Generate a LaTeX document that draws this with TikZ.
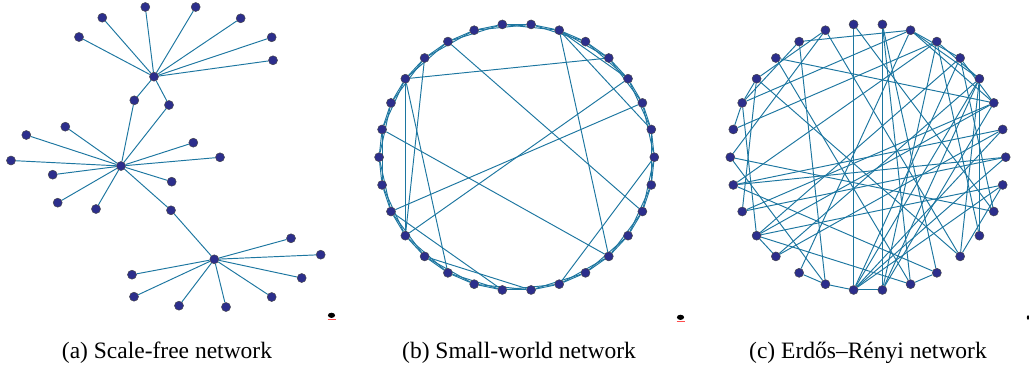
\documentclass[tikz,border=0pt]{standalone}
\usepackage{fontspec}
\setmainfont{Liberation Serif}
\definecolor{edgec}{RGB}{28,118,160}
\definecolor{dotc}{RGB}{44,46,140}
\definecolor{dotline}{RGB}{70,70,80}
\pgfdeclarelayer{bg}
\pgfdeclarelayer{edges}
\pgfsetlayers{bg,edges,main}
\begin{document}
\begin{tikzpicture}[x=1pt,y=-1pt,
  dot/.style={circle,fill=dotc,draw=dotline,line width=0.5pt,inner sep=0pt,minimum size=9pt},
  edge/.style={draw=edgec,line width=0.95pt},
  blob/.style={fill=black},
  captext/.style={font=\fontsize{23.5}{28}\selectfont,anchor=base}]
\begin{pgfonlayer}{bg}
\fill[white] (0,0) rectangle (1029,370);
\end{pgfonlayer}
\useasboundingbox (0,0) rectangle (1029,370);
% ---------- (a) scale-free ----------
\node[dot] (hA) at (154,76.7) {};
\node[dot] (a1) at (79,37) {};
\node[dot] (a2) at (102.3,17.7) {};
\node[dot] (a3) at (145.3,7) {};
\node[dot] (a4) at (195.7,7) {};
\node[dot] (a5) at (240.7,18.3) {};
\node[dot] (a6) at (271.7,37.3) {};
\node[dot] (a7) at (273,60.3) {};
\node[dot] (a8) at (134.3,100.3) {};
\node[dot] (a9) at (169,105) {};
\node[dot] (hB) at (121,166) {};
\node[dot] (b1) at (65.3,126.7) {};
\node[dot] (b2) at (26.3,135) {};
\node[dot] (b3) at (193.3,142.7) {};
\node[dot] (b4) at (220,157.3) {};
\node[dot] (b5) at (11,160.5) {};
\node[dot] (b6) at (52.7,174.7) {};
\node[dot] (b7) at (171.7,181.7) {};
\node[dot] (b8) at (57.7,202.7) {};
\node[dot] (b9) at (96,209) {};
\node[dot] (b10) at (171,210.3) {};
\node[dot] (hC) at (214.3,259.3) {};
\node[dot] (c1) at (291,238.3) {};
\node[dot] (c2) at (320.7,254.7) {};
\node[dot] (c3) at (301.7,278) {};
\node[dot] (c4) at (271.7,297) {};
\node[dot] (c5) at (226,307) {};
\node[dot] (c6) at (179,305.7) {};
\node[dot] (c7) at (134,296.7) {};
\node[dot] (c8) at (132,274.7) {};
\begin{pgfonlayer}{edges}
\foreach \t in {a1,a2,a3,a4,a5,a6,a7,a8,a9} \draw[edge] (hA) -- (\t);
\foreach \t in {a8,a9,b1,b2,b3,b4,b5,b6,b7,b8,b9,b10} \draw[edge] (hB) -- (\t);
\foreach \t in {b10,c1,c2,c3,c4,c5,c6,c7,c8} \draw[edge] (hC) -- (\t);
\end{pgfonlayer}
% ---------- (b) small-world ----------
\foreach \i in {0,...,29}
  \node[dot] (sw\i) at ({516.7+137.6*cos(12*\i)},{157.2-133.5*sin(12*\i)}) {};
\begin{pgfonlayer}{edges}
\foreach \i in {0,...,29}{
  \pgfmathtruncatemacro\j{mod(\i+1,30)}
  \pgfmathtruncatemacro\k{mod(\i+2,30)}
  \draw[edge] (sw\i) -- (sw\j);
  \draw[edge] (sw\i) -- (sw\k);
}
\foreach \p/\q in {12/4,10/28,6/26,6/3,6/1,3/18,2/17,14/26,12/18,11/18,12/20,17/22,19/23,0/24}
  \draw[edge] (sw\p) -- (sw\q);
\end{pgfonlayer}
% ---------- (c) Erdos-Renyi ----------
\foreach \i in {0,...,29}
  \node[dot] (er\i) at ({868+137.7*cos(12*\i)},{157.2-133.5*sin(12*\i)}) {};
\begin{pgfonlayer}{edges}
\foreach \p/\q in {8/22,7/23,10/6,11/2,10/21,13/6,14/5,13/12,13/18,16/0,16/1,18/29,18/19,20/21,22/23,24/25,22/3,22/4,23/3,9/26,12/26,11/24,9/12,6/2,3/26,29/26,22/1,22/29,18/24,17/2,19/1,20/6,21/15,15/9,16/5,25/16,27/5,28/8,4/2,5/3,6/3,4/18,3/19,0/17,5/23,7/24,23/2,3/27,14/13,21/22,18/2,28/4,25/7,6/4,10/13,0/22,15/28,17/12}
  \draw[edge] (er\p) -- (er\q);
\end{pgfonlayer}
% ---------- small marks ----------
\fill[blob] (331.5,315.3) ellipse (3.6 and 2.6);
\draw[red!70,line width=0.5pt] (327.5,319.2) -- (335.5,319.2);
\fill[blob] (680.5,317.3) ellipse (3.6 and 2.6);
\draw[red!70,line width=0.5pt] (676.5,321.2) -- (684.5,321.2);
\fill[blob] (1028,317.5) ellipse (1.2 and 2.2);
% ---------- captions ----------
\node[captext] (capa) at (167,358) {(a) Scale-free network};
\node[captext] (capb) at (519,358) {(b) Small-world network};
\node[captext] (capc) at (868,358) {(c) Erdős–Rényi network};
\end{tikzpicture}
\end{document}
